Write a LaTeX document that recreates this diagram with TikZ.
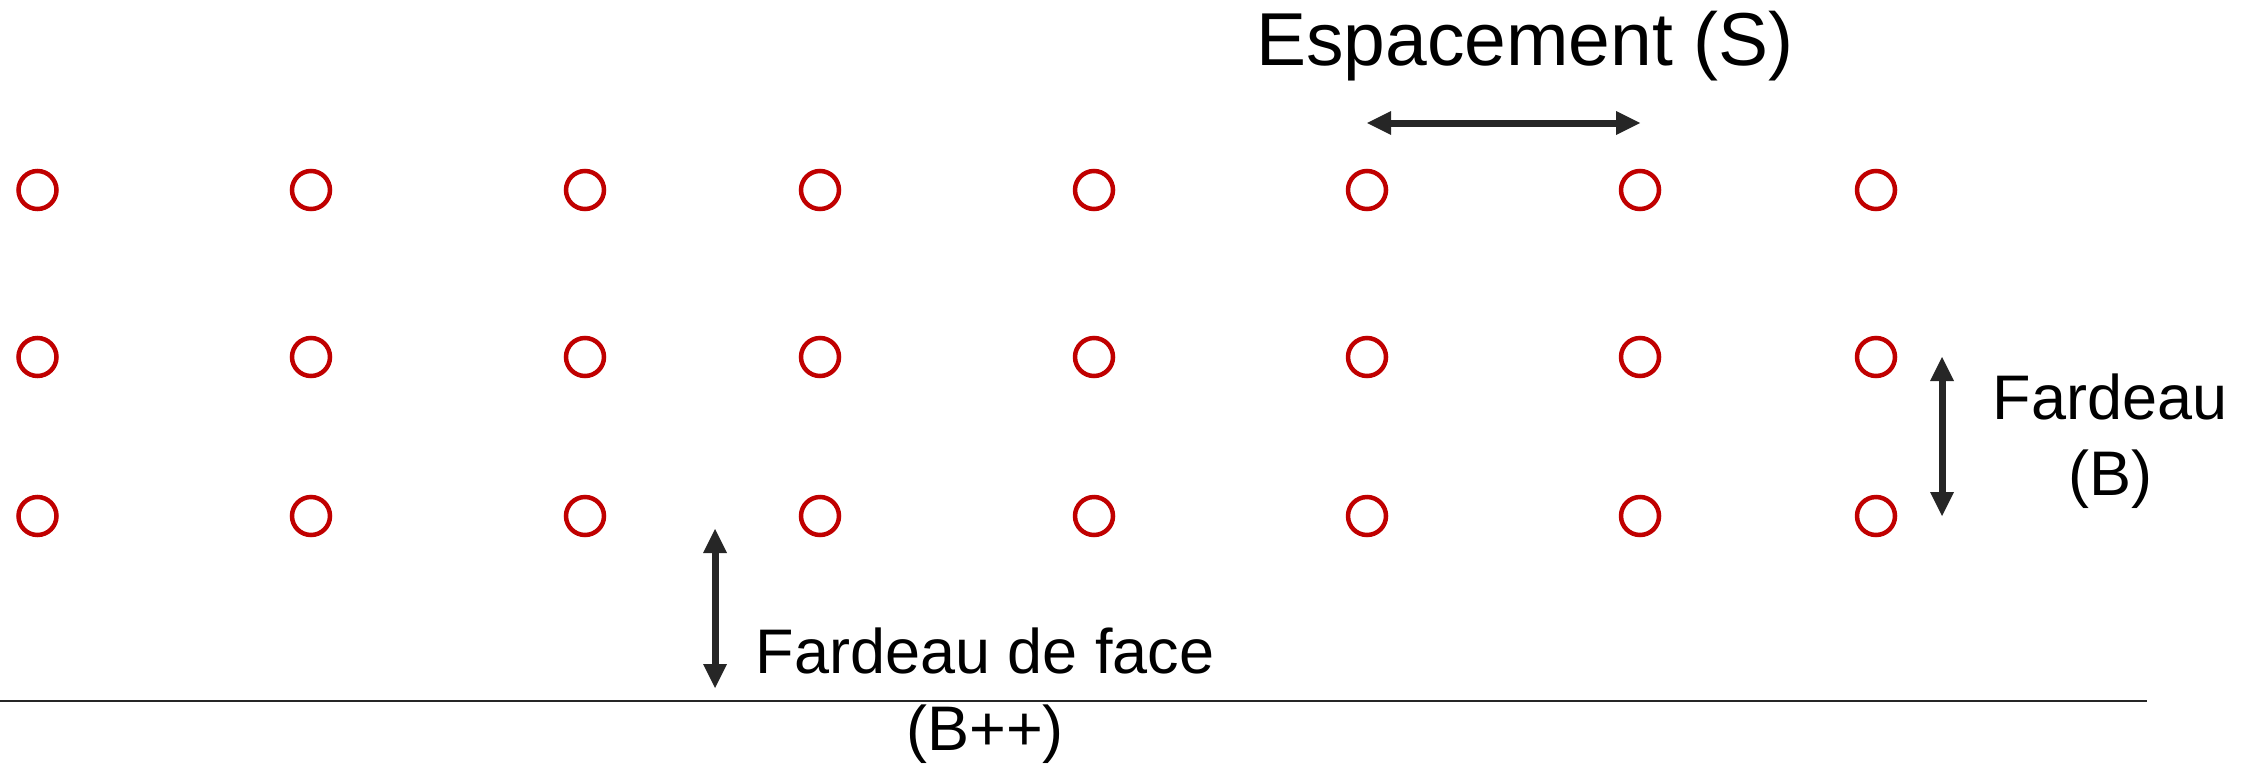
\documentclass[tikz,border=0pt]{standalone}
\usepackage{fontspec}
\setmainfont{Liberation Sans}
\usetikzlibrary{calc}
\definecolor{holered}{HTML}{C00000}
\definecolor{arrowgray}{HTML}{262626}
\begin{document}
\begin{tikzpicture}[x=1pt,y=-1pt,
  hole/.style={circle,draw=holered,line width=4.5pt,minimum size=38pt,inner sep=0pt},
  shaft/.style={draw=arrowgray,line width=7pt},
  head/.style={fill=arrowgray},
  biglabel/.style={font=\fontsize{75}{90}\selectfont,anchor=base,inner sep=0pt},
  label/.style={font=\fontsize{63}{77}\selectfont,anchor=base,inner sep=0pt}]
\useasboundingbox (0,0) rectangle (2251,764);
% holes
\foreach \c/\x in {1/37.5,2/311,3/585,4/820,5/1094,6/1367,7/1640,8/1876}{
  \foreach \r/\y in {1/190,2/357,3/516}{
    \node[hole] (h\r\c) at (\x,\y) {};
  }
}
% spacing arrow
\coordinate (sL) at (1367,123);
\coordinate (sR) at (1640,123);
\draw[shaft] ($(sL)+(22,0)$) -- ($(sR)+(-22,0)$);
\fill[head] (sL) -- ++(24,-12) -- ++(0,24) -- cycle;
\fill[head] (sR) -- ++(-24,-12) -- ++(0,24) -- cycle;
\node[biglabel] (esp) at (1525,65) {Espacement (S)};
% burden arrow
\coordinate (bT) at (1942,357);
\coordinate (bB) at (1942,516);
\draw[shaft] ($(bT)+(0,22)$) -- ($(bB)+(0,-22)$);
\fill[head] (bT) -- ++(-12,24) -- ++(24,0) -- cycle;
\fill[head] (bB) -- ++(-12,-24) -- ++(24,0) -- cycle;
\node[label] (far1) at (2110,419) {Fardeau};
\node[label] (far2) at (2110,495) {(B)};
% face burden arrow
\coordinate (fT) at (715,529);
\coordinate (fB) at (715,688);
\draw[shaft] ($(fT)+(0,22)$) -- ($(fB)+(0,-22)$);
\fill[head] (fT) -- ++(-12,24) -- ++(24,0) -- cycle;
\fill[head] (fB) -- ++(-12,-24) -- ++(24,0) -- cycle;
\node[label] (face1) at (985,673) {Fardeau de face};
\node[label] (face2) at (985,750) {(B++)};
% free face line
\coordinate (lineL) at (0,701);
\coordinate (lineR) at (2147,701);
\draw[arrowgray,line width=2pt] (lineL) -- (lineR);
\end{tikzpicture}
\end{document}
